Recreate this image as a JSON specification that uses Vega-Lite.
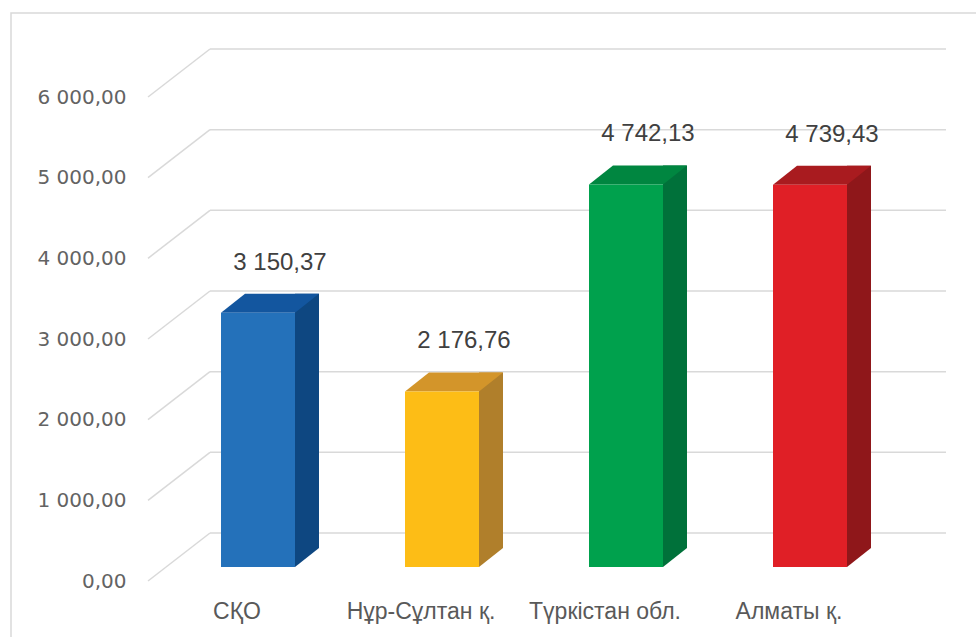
{
  "$schema": "https://vega.github.io/schema/vega-lite/v6.json",
  "autosize": {"type": "none"},
  "padding": {"left": 11, "top": 13, "right": 0, "bottom": 0},
  "width": 970,
  "height": 630,
  "background": "white",
  "datasets": {
    "bars": [
      {"region": "СҚО", "value": 3150.37},
      {"region": "Нұр-Сұлтан қ.", "value": 2176.76},
      {"region": "Түркістан обл.", "value": 4742.13},
      {"region": "Алматы қ.", "value": 4739.43}
    ],
    "ticks": [
      {"v": 0}, {"v": 1000}, {"v": 2000}, {"v": 3000}, {"v": 4000}, {"v": 5000}, {"v": 6000}
    ]
  },
  "layer": [
    {
      "data": {"name": "ticks"},
      "mark": {"type": "rule", "color": "#D9D9D9", "strokeWidth": 1.5, "xOffset": -92, "x2Offset": 92, "yOffset": -34},
      "encoding": {
        "x": {"datum": "СҚО", "type": "nominal", "title": null},
        "x2": {"datum": "Алматы қ."},
        "y": {"field": "v", "type": "quantitative", "title": null}
      }
    },
    {
      "data": {"name": "ticks"},
      "mark": {"type": "rule", "color": "#D9D9D9", "strokeWidth": 1.5, "xOffset": -92, "x2Offset": -154, "yOffset": -34, "y2Offset": 14},
      "encoding": {
        "x": {"datum": "СҚО", "type": "nominal", "title": null},
        "x2": {"datum": "СҚО"},
        "y": {"field": "v", "type": "quantitative", "title": null},
        "y2": {"field": "v"}
      }
    },
    {
      "data": {"name": "bars"},
      "mark": {"type": "bar", "width": 24, "xOffset": 5, "yOffset": -19, "y2Offset": -19},
      "encoding": {
        "x": {"field": "region", "type": "nominal", "title": null},
        "y": {"field": "value", "type": "quantitative", "title": null},
        "color": {"field": "region", "type": "nominal", "legend": null,
          "scale": {"domain": ["СҚО", "Нұр-Сұлтан қ.", "Түркістан обл.", "Алматы қ."], "range": ["#0E4781", "#B07F2B", "#00713A", "#8F171A"]}}
      }
    },
    {
      "data": {"name": "bars"},
      "mark": {"type": "point", "filled": true, "opacity": 1, "size": 4, "strokeWidth": 0, "shape": "M -7 0 L -7 -19 L 17 -19 Z"},
      "encoding": {
        "x": {"field": "region", "type": "nominal", "title": null},
        "y": {"datum": 0, "type": "quantitative", "title": null},
        "color": {"field": "region", "type": "nominal", "legend": null,
          "scale": {"domain": ["СҚО", "Нұр-Сұлтан қ.", "Түркістан обл.", "Алматы қ."], "range": ["#0E4781", "#B07F2B", "#00713A", "#8F171A"]}}
      }
    },
    {
      "data": {"name": "bars"},
      "mark": {"type": "point", "filled": true, "opacity": 1, "size": 4, "strokeWidth": 0, "shape": "M -81 0 L -7 0 L 17 -19 L -57 -19 Z"},
      "encoding": {
        "x": {"field": "region", "type": "nominal", "title": null},
        "y": {"field": "value", "type": "quantitative", "title": null},
        "color": {"field": "region", "type": "nominal", "legend": null,
          "scale": {"domain": ["СҚО", "Нұр-Сұлтан қ.", "Түркістан обл.", "Алматы қ."], "range": ["#13569F", "#D3952A", "#008640", "#A91B1F"]}}
      }
    },
    {
      "data": {"name": "bars"},
      "mark": {"type": "bar", "width": 74, "xOffset": -44},
      "encoding": {
        "x": {"field": "region", "type": "nominal", "sort": null, "title": null,
          "scale": {"domain": ["СҚО", "Нұр-Сұлтан қ.", "Түркістан обл.", "Алматы қ."], "range": [199, 935], "paddingInner": 0, "paddingOuter": 0},
          "axis": {"title": null, "domain": false, "ticks": false, "tickSize": 0, "grid": false, "labelPadding": 0, "offset": -43, "labelOffset": -65, "labelAngle": 0, "labelAlign": "center", "labelBaseline": "top", "labelFont": "Liberation Sans", "labelFontSize": 23, "labelColor": "#595959"}},
        "y": {"field": "value", "type": "quantitative", "title": null,
          "scale": {"domain": [0, 6000], "range": [554, 70], "nice": false, "zero": true},
          "axis": {"title": null, "domain": false, "ticks": false, "tickSize": 0, "grid": false, "labelPadding": 0, "offset": -115, "labelOffset": 14, "labelFlush": false, "labelAlign": "right", "values": [0, 1000, 2000, 3000, 4000, 5000, 6000], "format": ",.2f", "labelFont": "DejaVu Sans", "labelFontSize": 20, "labelColor": "#636363"}},
        "color": {"field": "region", "type": "nominal", "legend": null,
          "scale": {"domain": ["СҚО", "Нұр-Сұлтан қ.", "Түркістан обл.", "Алматы қ."], "range": ["#2471BA", "#FDBD16", "#00A14D", "#E01F26"]}}
      }
    },
    {
      "data": {"name": "bars"},
      "mark": {"type": "text", "font": "Liberation Sans", "fontSize": 24, "color": "#404040", "xOffset": -22, "dy": -50, "baseline": "middle", "align": "center"},
      "encoding": {
        "x": {"field": "region", "type": "nominal", "title": null},
        "y": {"field": "value", "type": "quantitative", "title": null},
        "text": {"field": "value", "type": "quantitative", "format": ",.2f"}
      }
    }
  ],
  "resolve": {"scale": {"color": "independent"}},
  "config": {
    "locale": {"number": {"decimal": ",", "thousands": " ", "grouping": [3], "currency": ["", ""]}},
    "view": {"stroke": "#D9D9D9", "strokeWidth": 1.5},
    "axis": {"grid": false, "domain": false, "ticks": false}
  }
}
